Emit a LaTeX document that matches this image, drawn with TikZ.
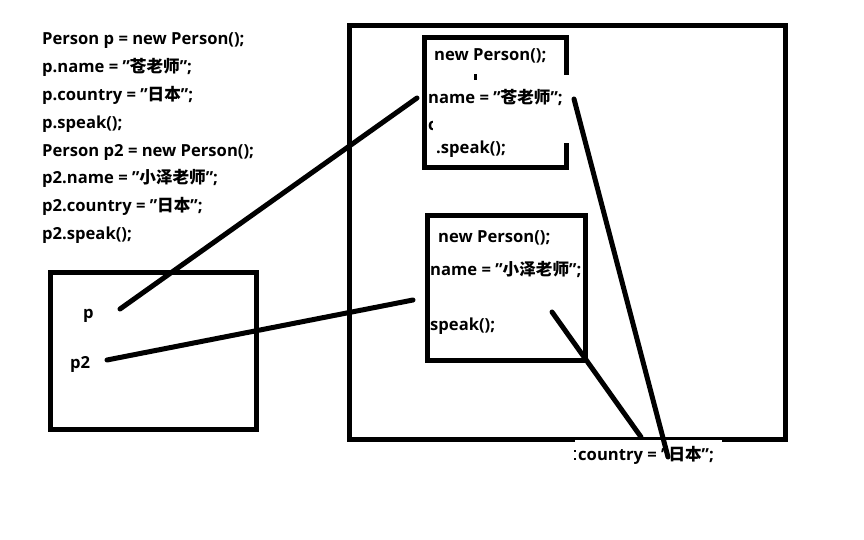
\documentclass[tikz,border=0pt]{standalone}
\usepackage{fontspec}
\setmainfont{Open Sans}
\newfontfamily\cjk{Noto Sans CJK SC}
\newcommand\zh[1]{{\cjk #1}}
\newcommand\q{\char34\relax}
\tikzset{
  code/.style={anchor=base west, inner sep=0pt, font=\fontsize{16.6}{16.6}\selectfont\bfseries},
  frame/.style={draw=black, line width=5pt},
  link/.style={draw=black, line width=5pt, line cap=round},
}
\begin{document}
\begin{tikzpicture}[x=1pt,y=-1pt]
\useasboundingbox[fill=white] (0,0) rectangle (864,540);
% boxes
\draw[frame] (349.5,25.5) rectangle (785,439.5);
\draw[frame] (424.5,37.5) rectangle (566,167.5);
\draw[frame] (427.5,215.5) rectangle (585.5,360.5);
\draw[frame] (50.5,272.5) rectangle (256,429.5);
% erased patches
\fill[white] (560,75) rectangle (572,143);
\fill[white] (575,440) rectangle (722,472);
% left code
\foreach \t [count=\i from 0] in {
  {Person p = new Person();},
  {p.name = \q\zh{苍老师}\q;},
  {p.country = \q\zh{日本}\q;},
  {p.speak();},
  {Person p2 = new Person();},
  {p2.name = \q\zh{小泽老师}\q;},
  {p2.country = \q\zh{日本}\q;},
  {p2.speak();}}
  \node[code] (c\i) at (42,45+27.8*\i) {\t};
% box 1
\node[code] (b1new) at (434,61) {new Person();};
\node[code] (b1name) at (428,104) {name = \q\zh{苍老师}\q;};
\node[code] (b1speak) at (436,154) {.speak();};
\fill (474,74) rectangle (477,80);
\begin{scope}
\clip (427,118) rectangle (432.5,136);
\node[code] (b1c) at (428,131) {c};
\end{scope}
% box 2
\node[code] (b2new) at (438,242) {new Person();};
\node[code] (b2name) at (430,275) {name = \q\zh{小泽老师}\q;};
\node[code] (b2speak) at (430,330) {speak();};
% small box
\node[code] (p) at (83,318) {p};
\node[code] (p2) at (70,368) {p2};
% country
\node[code] (country) at (578,460) {country = \q\zh{日本}\q;};
\fill (574,450) rectangle (576,452);
\fill (574,458) rectangle (576,460);
% connector ends
\coordinate (pA) at (120,309);
\coordinate (pB) at (417,98);
\coordinate (qA) at (107,360);
\coordinate (qB) at (413,300);
\coordinate (nA) at (574,99);
\coordinate (nB) at (668,457);
\coordinate (sA) at (552,312);
\coordinate (sB) at (641,437);
\draw[link] (pA) -- (pB);
\draw[link] (qA) -- (qB);
\draw[link] (nA) -- (nB);
\draw[link] (sA) -- (sB);
\end{tikzpicture}
\end{document}
